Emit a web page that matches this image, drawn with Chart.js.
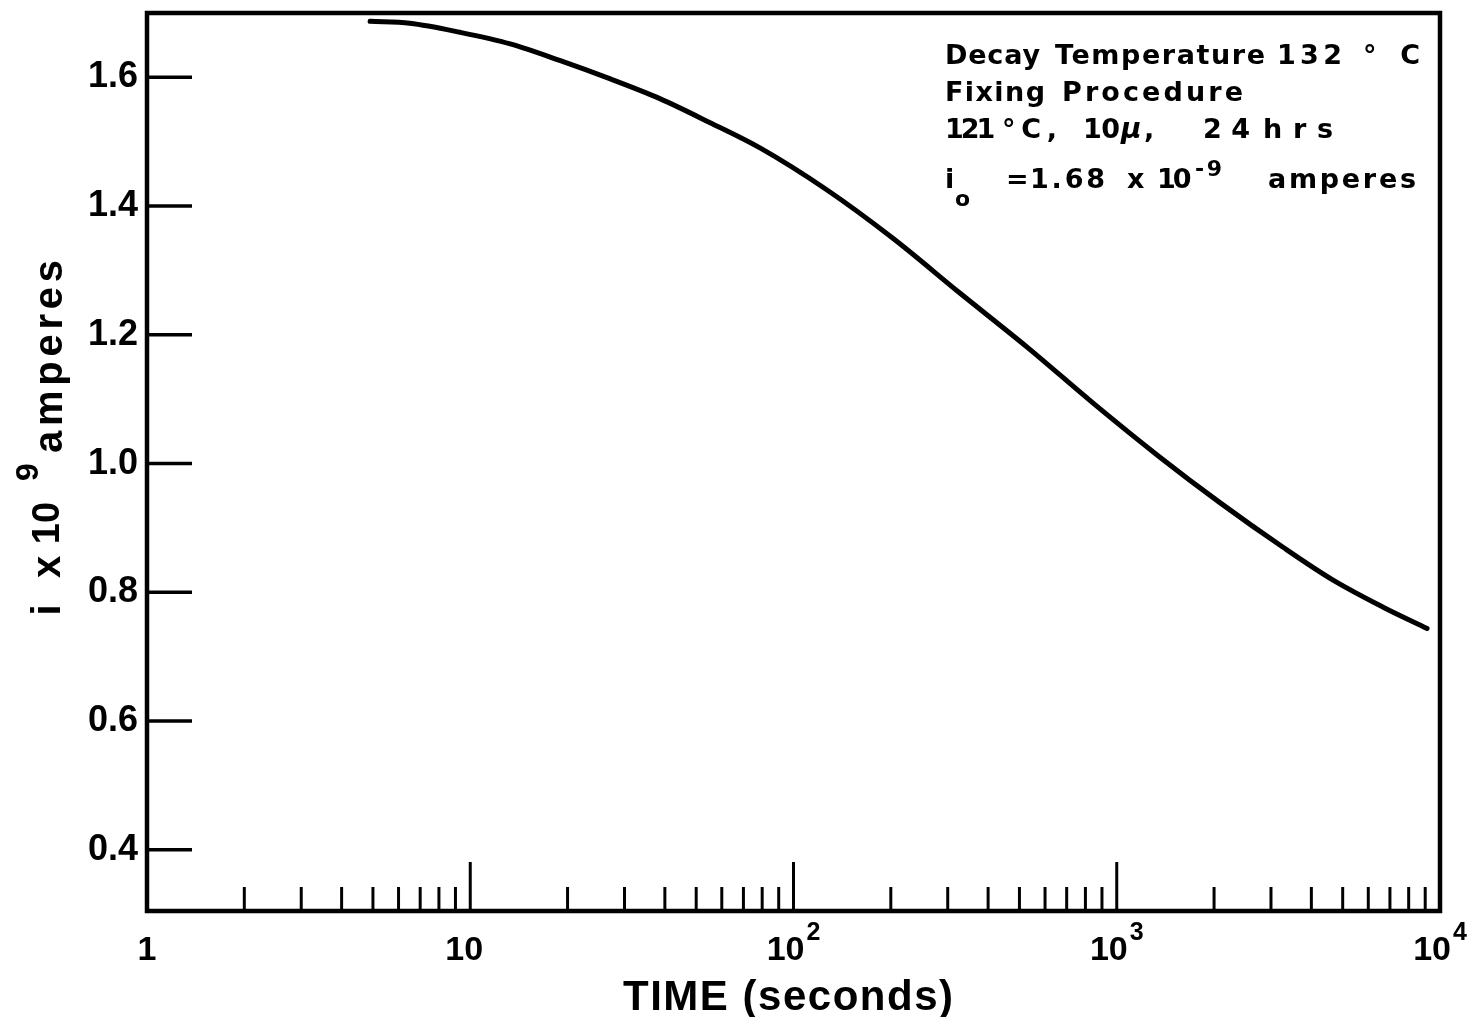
<!DOCTYPE html>
<html>
<head>
<meta charset="utf-8">
<title>Current decay at 132 °C</title>
<script src="https://cdn.jsdelivr.net/npm/chart.js@4.4.0/dist/chart.umd.min.js"></script>
<style>
  html, body { margin: 0; padding: 0; background: #fff; }
  #wrap { width: 1469px; height: 1017px; }
</style>
</head>
<body>
<div id="wrap"><canvas id="decayChart" width="1469" height="1017"></canvas></div>
<script>
// values: time in seconds, current in units of 1e-9 A
const timeSec   = [4.9, 6.5, 9.3, 13.3, 19, 27, 38.6, 55, 79, 127, 203, 327, 528, 845, 1360, 2090, 3270, 4670, 6670, 9120];
const currentNA = [1.687, 1.684, 1.670, 1.652, 1.626, 1.598, 1.567, 1.530, 1.490, 1.425, 1.350, 1.265, 1.181, 1.094, 1.010, 0.939, 0.870, 0.819, 0.777, 0.744];

const yTicks = [0.4, 0.6, 0.8, 1.0, 1.2, 1.4, 1.6];
const xDecades = [1, 10, 100, 1000, 10000];
const xDecadeLabels = [['1', ''], ['10', ''], ['10', '2'], ['10', '3'], ['10', '4']];
const xMinorSteps = [2, 3, 4, 5, 6, 7, 8, 9];

const xTitle = 'TIME (seconds)';
const yTitle = ['i', 'x', '10', '9', 'amperes'];
const noteLines = [
  ['Decay', 'Temperature', '132', '°C'],
  ['Fixing', 'Procedure'],
  ['121', '°C,', '10', 'μ', ',', '24', 'hrs']
];
const noteCurrent = ['i', 'o', '=', '1.68', 'x', '10', '-9', 'amperes'];

const FONT = 'Liberation Sans';
const NOTE_FONT = 'DejaVu Sans';

// draw text starting at left, spreading letters so it reaches right
function fitText(ctx, text, left, right, baseline, maxGap = 8, minGap = -1) {
  ctx.letterSpacing = '0px';
  const w = ctx.measureText(text).width;
  const n = [...text].length;
  let ls = n > 1 ? (right - left - w) / (n - 1) : 0;
  ls = Math.max(minGap, Math.min(maxGap, ls));
  ctx.letterSpacing = ls + 'px';
  ctx.textAlign = 'left';
  ctx.fillText(text, left, baseline);
  ctx.letterSpacing = '0px';
}

function line(ctx, x1, y1, x2, y2) {
  ctx.beginPath();
  ctx.moveTo(x1, y1);
  ctx.lineTo(x2, y2);
  ctx.stroke();
}

const paperPlugin = {
  id: 'paper',
  beforeDraw(chart) {
    const ctx = chart.ctx;
    ctx.save();
    ctx.fillStyle = '#fff';
    ctx.fillRect(0, 0, chart.width, chart.height);
    ctx.restore();
  },
  afterDraw(chart) {
    const { ctx, chartArea: a, scales: { x, y } } = chart;
    ctx.save();
    ctx.strokeStyle = '#000';
    ctx.fillStyle = '#000';
    ctx.lineCap = 'butt';

    // frame
    ctx.lineWidth = 4.5;
    ctx.strokeRect(a.left, a.top, a.right - a.left, a.bottom - a.top);

    // y ticks point into the plot
    ctx.lineWidth = 3.5;
    yTicks.forEach(v => {
      const py = y.getPixelForValue(v);
      line(ctx, a.left, py, a.left + 45, py);
    });

    // x ticks: minor 2..9 in every decade, taller at the decades
    ctx.lineWidth = 3;
    xDecades.slice(0, -1).forEach(d => {
      xMinorSteps.forEach(m => {
        const px = x.getPixelForValue(d * m);
        line(ctx, px, a.bottom, px, a.bottom - 24);
      });
      if (d > 1) {
        const px = x.getPixelForValue(d);
        line(ctx, px, a.bottom, px, a.bottom - 49);
      }
    });

    // x tick labels with raised exponents
    ctx.textBaseline = 'alphabetic';
    xDecades.forEach((d, i) => {
      const px = x.getPixelForValue(d);
      const [base, exp] = xDecadeLabels[i];
      ctx.font = `bold 34px "${FONT}"`;
      const wb = ctx.measureText(base).width;
      ctx.font = `bold 25px "${FONT}"`;
      const we = exp ? ctx.measureText(exp).width + 2 : 0;
      const shift = (base === '10' && !exp) ? -6 : 0;
      const start = px - (wb + we) / 2 + shift;
      ctx.textAlign = 'left';
      ctx.font = `bold 34px "${FONT}"`;
      ctx.fillText(base, start, 960);
      if (exp) {
        ctx.font = `bold 25px "${FONT}"`;
        ctx.fillText(exp, start + wb + 2, 940);
      }
    });

    // x title
    ctx.font = `bold 42px "${FONT}"`;
    fitText(ctx, xTitle, 623, 953, 1010);

    // y title, read bottom to top
    const yParts = [
      { t: yTitle[0], c: 610, b: 60, s: 40 },
      { t: yTitle[1], c: 567, b: 60, s: 40 },
      { t: yTitle[2], c: 523, b: 59, s: 38 },
      { t: yTitle[3], c: 472, b: 38, s: 32 }
    ];
    yParts.forEach(p => {
      ctx.save();
      ctx.translate(p.b, p.c);
      ctx.rotate(-Math.PI / 2);
      ctx.font = `bold ${p.s}px "${FONT}"`;
      ctx.textAlign = 'center';
      ctx.fillText(p.t, 0, 0);
      ctx.restore();
    });
    ctx.save();
    ctx.translate(62, 453);
    ctx.rotate(-Math.PI / 2);
    ctx.font = `bold 40px "${FONT}"`;
    fitText(ctx, yTitle[4], 0, 193, 0);
    ctx.restore();

    // note in the upper right
    const noteSpans = [
      [[945, 1040], [1055, 1265], [1277, 1342], [1363, 1420]],
      [[945, 1045], [1062, 1243]],
      [[945, 982], [1002, 1057], [1083, 1120], [1121, 1142], [1144, 1152], [1203, 1250], [1263, 1333]]
    ];
    const noteBase = [64, 101, 138];
    noteLines.forEach((words, li) => {
      words.forEach((w, wi) => {
        ctx.font = (w === 'μ' ? 'italic bold 28px' : 'bold 27px') + ` "${NOTE_FONT}"`;
        const [l, r] = noteSpans[li][wi];
        fitText(ctx, w, l, r, noteBase[li], 24, -3);
      });
    });

    const curParts = [
      { l: 945, r: 952, b: 188, s: 27 },
      { l: 955, r: 968, b: 206, s: 22 },
      { l: 1006, r: 1022, b: 188, s: 27 },
      { l: 1030, r: 1105, b: 188, s: 27 },
      { l: 1127, r: 1143, b: 188, s: 27 },
      { l: 1157, r: 1190, b: 188, s: 27 },
      { l: 1195, r: 1222, b: 176, s: 22 },
      { l: 1268, r: 1416, b: 188, s: 27 }
    ];
    noteCurrent.forEach((t, i) => {
      const p = curParts[i];
      ctx.font = `bold ${p.s}px "${NOTE_FONT}"`;
      fitText(ctx, t, p.l, p.r, p.b, 8, -3);
    });

    ctx.restore();
  }
};

const ctx = document.getElementById('decayChart').getContext('2d');
const chart = new Chart(ctx, {
  type: 'line',
  data: {
    datasets: [{
      label: 'i x 10^9 A',
      data: timeSec.map((t, i) => ({ x: t, y: currentNA[i] })),
      borderColor: '#000',
      borderWidth: 5,
      borderCapStyle: 'round',
      pointRadius: 0,
      fill: false,
      cubicInterpolationMode: 'monotone'
    }]
  },
  options: {
    responsive: false,
    animation: false,
    layout: { padding: { top: 13, right: 29, left: 0, bottom: 0 } },
    plugins: {
      legend: { display: false },
      tooltip: { enabled: false }
    },
    scales: {
      x: {
        type: 'logarithmic',
        min: 1,
        max: 10000,
        grid: { display: false, drawTicks: false },
        border: { display: false },
        ticks: { display: false },
        afterFit: s => { s.height = 106; s.paddingLeft = 0; s.paddingRight = 0; }
      },
      y: {
        min: 0.305,
        max: 1.7,
        grid: { display: false, drawTicks: false },
        border: { display: false },
        afterBuildTicks: s => { s.ticks = yTicks.map(v => ({ value: v })); },
        afterFit: s => { s.width = 147; s.paddingTop = 0; s.paddingBottom = 0; },
        ticks: {
          color: '#000',
          padding: 9,
          font: { family: FONT, size: 36, weight: 'bold' },
          callback: v => Number(v).toFixed(1)
        }
      }
    }
  },
  plugins: [paperPlugin]
});
</script>
</body>
</html>
